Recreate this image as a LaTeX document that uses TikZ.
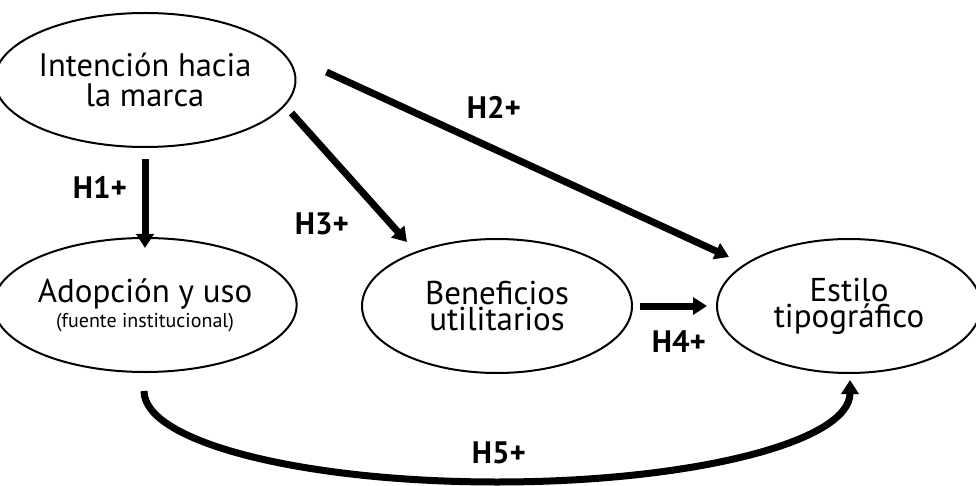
\documentclass[tikz,border=0pt]{standalone}
\usepackage{fontspec}
\setmainfont{PT Sans}
\usetikzlibrary{shapes.geometric,arrows.meta}
\begin{document}
\begin{tikzpicture}[x=1pt,y=-1pt,
  ell/.style={draw,ellipse,line width=2pt,inner sep=0pt,align=center,minimum width=270pt,minimum height=134pt},
  conn/.style={line width=7pt,-{Triangle[length=14pt,width=17pt]}},
  hlab/.style={font=\fontsize{31}{31}\selectfont\bfseries,anchor=base,inner sep=0pt}]
\useasboundingbox (0,0) rectangle (976,486);
\node[ell,font=\fontsize{32.5}{30}\selectfont] (i) at (145,80) {Intención hacia\\la marca};
\node[ell,font=\fontsize{33}{25}\selectfont] (a) at (145,305) {Adopción y uso\\{\fontsize{20}{25}\selectfont (fuente institucional)}};
\node[ell,font=\fontsize{33}{26}\selectfont] (b) at (497,306) {Beneficios\\utilitarios};
\node[ell,font=\fontsize{33}{26}\selectfont,minimum width=264pt] (e) at (849,306) {Estilo\\tipográfico};
\coordinate (h5b) at (497,482);
\draw[conn,shorten <=11pt] (i) -- ([yshift=-11]a.north);
\draw[conn] ([shift={(30,-8)}]i.east) -- ([shift={(13,-49)}]e.west);
\draw[conn] ([shift={(-5,33)}]i.east) -- ([shift={(-90,4)}]b.north);
\draw[conn] ([xshift=7]b.east) -- ([xshift=-9]e.west);
\draw[conn] ([shift={(-1,18)}]a.south) .. controls +(0,51) and +(-195,0) .. (h5b)
  .. controls +(195,0) and +(0,62) .. ([shift={(1,6)}]e.south);
\node[hlab] (h1) at (100,199) {H1+};
\node[hlab] (h2) at (494,119) {H2+};
\node[hlab] (h3) at (322,235) {H3+};
\node[hlab] (h4) at (679,352) {H4+};
\node[hlab] (h5) at (499,463) {H5+};
\end{tikzpicture}
\end{document}
